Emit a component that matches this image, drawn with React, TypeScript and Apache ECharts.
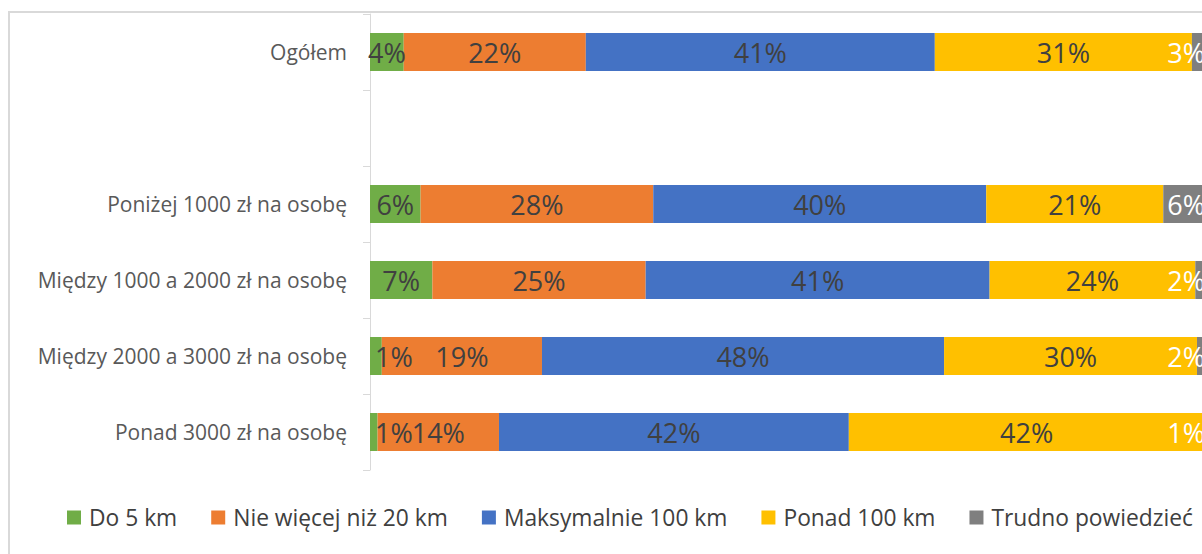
import React, { useEffect, useRef } from "react";
import * as echarts from "echarts";

const categories = [
  "Ogółem",
  "",
  "Poniżej 1000 zł na osobę",
  "Między 1000 a 2000 zł na osobę",
  "Między 2000 a 3000 zł na osobę",
  "Ponad 3000 zł na osobę",
];
const seriesNames = [
  "Do 5 km",
  "Nie więcej niż 20 km",
  "Maksymalnie 100 km",
  "Ponad 100 km",
  "Trudno powiedzieć",
];
const do5km = [4.0, null, 6.0, 7.4, 1.4, 0.9];
const do20km = [21.6, null, 27.6, 25.3, 19.0, 14.4];
const max100km = [41.4, null, 39.5, 40.8, 47.7, 41.5];
const over100km = [30.5, null, 21.0, 24.4, 30.0, 42.2];
const hardToSay = [2.6, null, 5.9, 2.1, 1.9, 1.0];

const seriesValues = [do5km, do20km, max100km, over100km, hardToSay];
const colors = ["#70AD47", "#ED7D31", "#4472C4", "#FFC000", "#7F7F7F"];
const FONT = "Open Sans";

export default function App() {
  const ref = useRef<HTMLDivElement>(null);
  useEffect(() => {
    if (!ref.current) return;
    const chart = echarts.init(ref.current, undefined, { renderer: "svg" });
    const series = seriesValues.map((vals, si) => ({
      name: seriesNames[si],
      type: "bar",
      stack: "total",
      barWidth: "50%",
      itemStyle: { color: colors[si] },
      label: {
        show: true,
        position: si === 4 ? "insideRight" : "inside",
        distance: si === 4 ? 8 : 5,
        fontFamily: FONT,
        fontSize: 27,
        color: si === 4 ? "#FFFFFF" : "#404040",
        formatter: (p: any) => Math.round(p.value) + "%",
      },
      data: vals.map((v) =>
        v === null
          ? null
          : si === 0 && v < 2
          ? { value: v, label: { position: "insideLeft" } }
          : v
      ),
    }));
    chart.setOption({
      animation: false,
      textStyle: { fontFamily: FONT },
      color: colors,
      grid: { left: 370, top: 14, width: 843, height: 456 },
      xAxis: { type: "value", min: 0, max: 100, show: false },
      yAxis: {
        type: "category",
        inverse: true,
        data: categories,
        axisLine: { show: true, lineStyle: { color: "#D9D9D9", width: 1 } },
        axisTick: { show: true, length: 7, lineStyle: { color: "#D9D9D9" } },
        axisLabel: { margin: 23, fontSize: 21, color: "#595959", fontFamily: FONT },
      },
      legend: {
        left: 62,
        top: 501,
        itemWidth: 14,
        itemHeight: 14,
        itemGap: 34,
        icon: "rect",
        data: seriesNames,
        textStyle: { fontSize: 22.8, color: "#404040", fontFamily: FONT, padding: [0, 0, 0, 3] },
      },
      graphic: [
        {
          type: "rect",
          silent: true,
          shape: { x: 9, y: 12, width: 1400, height: 700 },
          style: { fill: "none", stroke: "#D9D9D9", lineWidth: 2 },
        },
      ],
      series,
    });
    return () => chart.dispose();
  }, []);
  return (
    <div
      style={{
        position: "fixed",
        left: 0,
        top: 0,
        width: 1202,
        height: 554,
        overflow: "hidden",
        background: "#FFFFFF",
      }}
    >
      <div ref={ref} style={{ position: "absolute", left: 0, top: 0, width: 1260, height: 554 }} />
    </div>
  );
}
